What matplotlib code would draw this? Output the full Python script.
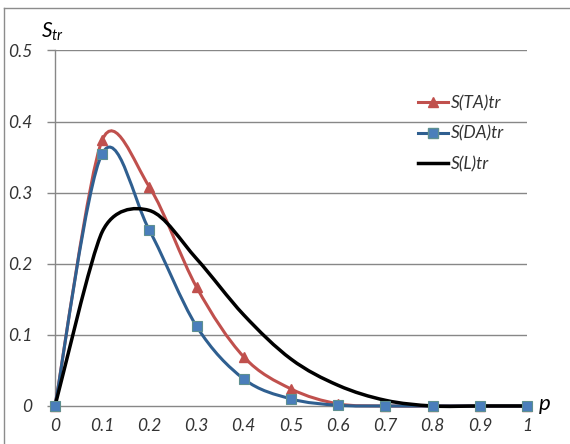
import numpy as np
import matplotlib
matplotlib.use('Agg')
import matplotlib.pyplot as plt
from matplotlib.path import Path
from matplotlib.patches import PathPatch
from matplotlib.lines import Line2D

plt.rcParams['font.family'] = ['Lato', 'DejaVu Sans']
plt.rcParams['mathtext.fontset'] = 'custom'
plt.rcParams['mathtext.it'] = 'Lato:italic'
plt.rcParams['mathtext.rm'] = 'Lato'

# data
p = [0, 0.1, 0.2, 0.3, 0.4, 0.5, 0.6, 0.7, 0.8, 0.9, 1.0]
s_ta = [0, 0.374, 0.308, 0.167, 0.069, 0.024, 0.003, 0, 0, 0, 0]
s_da = [0, 0.355, 0.247, 0.112, 0.038, 0.010, 0.001, 0, 0, 0, 0]
s_l = [0, 0.245, 0.275, 0.207, 0.128, 0.066, 0.029, 0.008, 0, 0, 0]

x_ticks = [0, 0.1, 0.2, 0.3, 0.4, 0.5, 0.6, 0.7, 0.8, 0.9, 1]
x_tick_labels = ['0', '0.1', '0.2', '0.3', '0.4', '0.5', '0.6', '0.7', '0.8', '0.9', '1']
y_ticks = [0, 0.1, 0.2, 0.3, 0.4, 0.5]
y_tick_labels = ['0', '0.1', '0.2', '0.3', '0.4', '0.5']

RED = '#C0504D'
BLUE_LINE = '#2F5F90'
BLUE_FACE = '#4A7EBB'
BLUE_EDGE = '#5E9090'
GRID = '#878787'
TXT = '#333333'


def smooth_path(ax, x, y):
    # Excel-like smoothing: Bezier arms of (P[i+1]-P[i-1])/6, capped to half of the
    # shorter neighbouring segment; worked out in screen space, mapped back to data
    pts = ax.transData.transform(np.column_stack([x, y]).astype(float))
    n = len(pts)
    arms = []
    for i in range(n):
        if i == 0 or i == n - 1:
            arms.append(None)
            continue
        a = (pts[i + 1] - pts[i - 1]) / 6
        la = np.hypot(*a)
        cap = 0.5 * min(np.hypot(*(pts[i] - pts[i - 1])), np.hypot(*(pts[i + 1] - pts[i])))
        if la > cap and la > 0:
            a = a * cap / la
        arms.append(a)
    verts = [pts[0]]
    codes = [Path.MOVETO]
    for i in range(n - 1):
        c1 = pts[i] + (arms[i] if arms[i] is not None else (pts[i + 1] - pts[i]) / 6)
        c2 = pts[i + 1] - (arms[i + 1] if arms[i + 1] is not None else (pts[i + 1] - pts[i]) / 6)
        verts += [c1, c2, pts[i + 1]]
        codes += [Path.CURVE4] * 3
    verts = ax.transData.inverted().transform(np.array(verts))
    return Path(verts, codes)


fig = plt.figure(figsize=(5.7, 4.44), dpi=100)
ax = fig.add_axes([0.0965, 0.0856, 0.8281, 0.8007])
ax.set_xlim(0, 1)
ax.set_ylim(0, 0.5)

for yv in y_ticks[1:]:
    ax.axhline(yv, color=GRID, lw=1.0, zorder=1)

for spine in ['top', 'right']:
    ax.spines[spine].set_visible(False)
ax.spines['left'].set_color(GRID)
ax.spines['bottom'].set_color(GRID)
ax.spines['left'].set_linewidth(1.0)
ax.spines['bottom'].set_linewidth(1.0)

# smoothed lines
ax.add_patch(PathPatch(smooth_path(ax, p, s_ta), fill=False, edgecolor=RED, lw=2.2, zorder=3, clip_on=False))
ax.add_patch(PathPatch(smooth_path(ax, p, s_da), fill=False, edgecolor=BLUE_LINE, lw=2.2, zorder=3, clip_on=False))
ax.add_patch(PathPatch(smooth_path(ax, p, s_l), fill=False, edgecolor='black', lw=2.5, zorder=4, clip_on=False))

# markers
ax.plot(p, s_ta, ls='none', marker='^', ms=7.5, color=RED, mec=RED, zorder=5, clip_on=False)
ax.plot(p, s_da, ls='none', marker='s', ms=6.8, color=BLUE_FACE, mec=BLUE_EDGE, mew=0.8, zorder=6, clip_on=False)

ax.set_xticks(x_ticks)
ax.set_xticklabels(x_tick_labels)
ax.set_yticks(y_ticks)
ax.set_yticklabels(y_tick_labels)
ax.tick_params(axis='x', length=0, pad=9, labelsize=12.5, labelcolor=TXT)
ax.tick_params(axis='y', length=5.5, width=1.0, color=GRID, pad=11, labelsize=12.5, labelcolor=TXT)
for lab in ax.get_xticklabels() + ax.get_yticklabels():
    lab.set_fontstyle('italic')

# axis titles
fig.text(41 / 570, 1 - 32 / 444, r'$S_{tr}$', fontsize=15, color='black', va='center', ha='left')
fig.text(539 / 570, 1 - 404 / 444, 'p', fontsize=16, style='italic', color='black', va='center', ha='left')

handles = [
    Line2D([], [], color=RED, lw=2.2, marker='^', ms=7.5),
    Line2D([], [], color=BLUE_LINE, lw=2.2, marker='s', ms=6.8, mfc=BLUE_FACE, mec=BLUE_EDGE),
    Line2D([], [], color='black', lw=2.5),
]
leg = ax.legend(handles, ['S(TA)tr', 'S(DA)tr', 'S(L)tr'], loc='upper left',
                bbox_to_anchor=(0.768, 0.874), frameon=False, handlelength=1.75,
                handletextpad=0.2, labelspacing=0.82, borderpad=0, borderaxespad=0,
                prop={'size': 12.5, 'style': 'italic'})
for t in leg.get_texts():
    t.set_color(TXT)

# chart-area border (left and top visible in the reference)
fig.add_artist(Line2D([4 / 570, 4 / 570], [0, 1 - 8 / 444], transform=fig.transFigure, color='#8c8c8c', lw=1.0))
fig.add_artist(Line2D([4 / 570, 1], [1 - 8 / 444, 1 - 8 / 444], transform=fig.transFigure, color='#8c8c8c', lw=1.0))

fig.savefig('out.png', dpi=100)
